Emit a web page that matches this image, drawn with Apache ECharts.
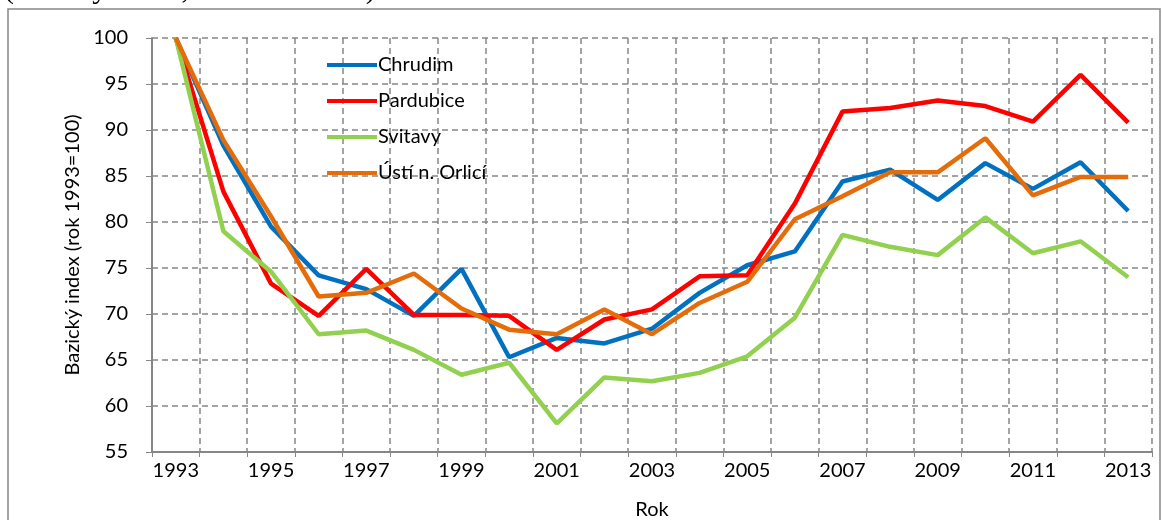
<!DOCTYPE html>
<html>
<head>
<meta charset="utf-8">
<script src="https://cdn.jsdelivr.net/npm/echarts@6/dist/echarts.min.js"></script>
<style>
  html, body { margin: 0; padding: 0; background: #fff; }
  #chart { width: 1162px; height: 520px; }
</style>
</head>
<body>
<div id="chart"></div>
<script>
var years = ['1993','1994','1995','1996','1997','1998','1999','2000','2001','2002','2003',
             '2004','2005','2006','2007','2008','2009','2010','2011','2012','2013'];

var chrudim   = [100, 88.3, 79.5, 74.2, 72.7, 69.8, 74.9, 65.3, 67.4, 66.8, 68.4, 72.3, 75.3, 76.8, 84.4, 85.7, 82.4, 86.4, 83.6, 86.5, 81.2];
var pardubice = [100, 83.3, 73.3, 69.8, 74.9, 69.9, 69.9, 69.8, 66.1, 69.4, 70.5, 74.1, 74.2, 82.0, 92.0, 92.4, 93.2, 92.6, 90.9, 96.0, 90.8];
var svitavy   = [100, 79.0, 74.6, 67.8, 68.2, 66.1, 63.4, 64.7, 58.1, 63.1, 62.7, 63.6, 65.4, 69.6, 78.6, 77.3, 76.4, 80.5, 76.6, 77.9, 74.0];
var ustiOrl   = [100, 88.9, 80.6, 71.9, 72.3, 74.4, 70.6, 68.3, 67.8, 70.5, 67.8, 71.2, 73.5, 80.3, 82.8, 85.4, 85.4, 89.1, 82.9, 84.9, 84.9];

var seriesNames = ['Chrudim', 'Pardubice', 'Svitavy', 'Ústí n. Orlicí'];
var colors = ['#0070C0', '#FF0000', '#92D050', '#E46C0A'];

var chart = echarts.init(document.getElementById('chart'));

function line(name, data, color) {
  return {
    name: name,
    type: 'line',
    data: data,
    symbol: 'none',
    smooth: false,
    lineStyle: { color: color, width: 4.5 },
    itemStyle: { color: color }
  };
}

var gray = '#868686';
var font = 'Lato, "Open Sans", sans-serif';

var option = {
  animation: false,
  backgroundColor: '#fff',
  color: colors,
  graphic: [
    {
      type: 'text',
      left: 4,
      top: -25,
      style: {
        text: '(bazický index, rok 1993=100)',
        font: '30px "Liberation Serif", serif',
        fill: '#000'
      }
    },
    {
      type: 'rect',
      shape: { x: 8, y: 9, width: 1152, height: 530 },
      style: { fill: 'none', stroke: gray, lineWidth: 1.5 },
      silent: true
    }
  ],
  grid: { left: 152, right: 10, top: 38, bottom: 68, containLabel: false, outerBoundsMode: 'none' },
  legend: {
    orient: 'vertical',
    left: 322,
    top: 50,
    itemWidth: 50,
    itemHeight: 4,
    itemGap: 16,
    icon: 'rect',
    textStyle: { fontFamily: font, fontSize: 20, color: '#000', padding: [0, 0, 0, -4] },
    data: seriesNames
  },
  xAxis: {
    type: 'category',
    data: years,
    boundaryGap: true,
    name: 'Rok',
    nameLocation: 'middle',
    nameGap: 48,
    nameTextStyle: { fontFamily: font, fontSize: 20, color: '#000' },
    axisLine: { lineStyle: { color: gray, width: 2 } },
    axisTick: { show: true, interval: 0, length: 5, lineStyle: { color: gray } },
    axisLabel: { interval: 1, margin: 9, fontFamily: font, fontSize: 20, color: '#000' },
    splitLine: { show: true, interval: 0, lineStyle: { color: gray, width: 1.5, type: [6, 4] } }
  },
  yAxis: {
    type: 'value',
    min: 55,
    max: 100,
    interval: 5,
    name: 'Bazický index (rok 1993=100)',
    nameLocation: 'middle',
    nameGap: 66,
    nameTextStyle: { fontFamily: font, fontSize: 20, color: '#000' },
    axisLine: { show: true, lineStyle: { color: gray, width: 2 } },
    axisTick: { show: true, length: 6, lineStyle: { color: gray } },
    axisLabel: { margin: 24, fontFamily: font, fontSize: 20, color: '#000' },
    splitLine: { show: true, lineStyle: { color: gray, width: 1.5, type: [6, 4] } }
  },
  series: [
    line(seriesNames[0], chrudim, colors[0]),
    line(seriesNames[1], pardubice, colors[1]),
    line(seriesNames[2], svitavy, colors[2]),
    line(seriesNames[3], ustiOrl, colors[3])
  ]
};

chart.setOption(option);
</script>
</body>
</html>
